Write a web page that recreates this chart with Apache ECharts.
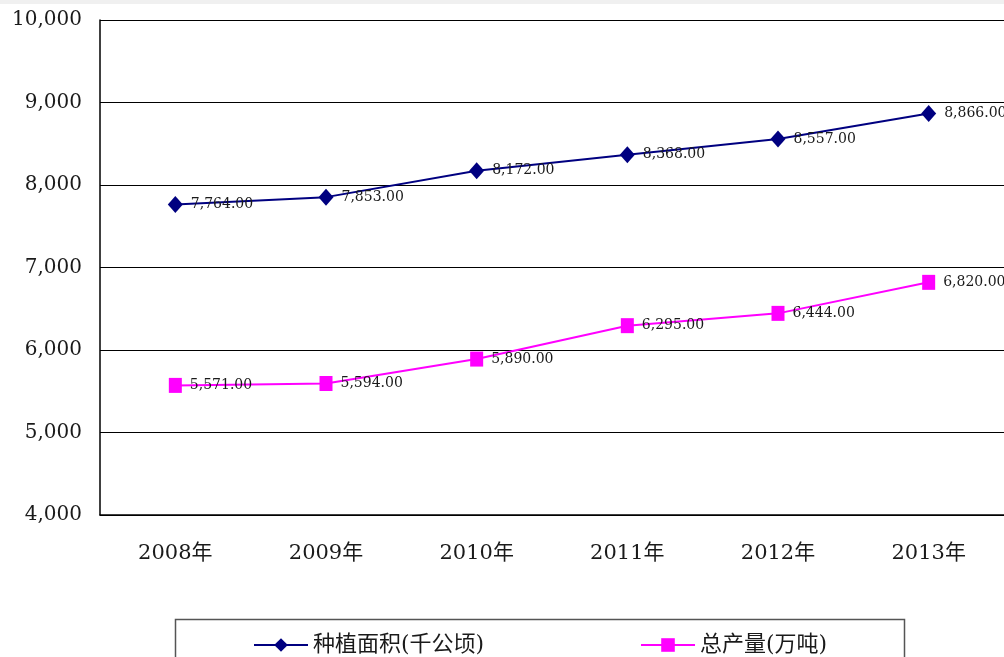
<!DOCTYPE html>
<html>
<head>
<meta charset="utf-8">
<script src="https://cdn.jsdelivr.net/npm/echarts@6/dist/echarts.min.js"></script>
<style>
  html, body { margin: 0; padding: 0; background: #fff; }
  #container { width: 1004px; height: 657px; }
</style>
</head>
<body>
<div id="container"></div>
<script>
var years = ["2008年", "2009年", "2010年", "2011年", "2012年", "2013年"];
var areaValues = [7764, 7853, 8172, 8368, 8557, 8866];
var outputValues = [5571, 5594, 5890, 6295, 6444, 6820];
var yTicks = [4000, 5000, 6000, 7000, 8000, 9000, 10000];
var seriesNames = ["种植面积(千公顷)", "总产量(万吨)"];

var serif = "'DejaVu Serif', 'Noto Sans CJK SC', serif";
var textColor = "#1a1a1a";

function fmt(v) {
  return v.toLocaleString("en-US", { minimumFractionDigits: 2, maximumFractionDigits: 2 });
}

var dom = document.getElementById("container");
var myChart = echarts.init(dom);

var legendBase = {
  top: 634,
  itemWidth: 54,
  itemHeight: 17,
  itemGap: 6,
  padding: 0,
  textStyle: { fontFamily: serif, fontSize: 22, color: textColor }
};

var option = {
  backgroundColor: "#fff",
  animation: false,
  graphic: [
    // grey strip on the top edge
    { type: "rect", left: 0, top: 0, shape: { width: 1004, height: 4 }, style: { fill: "#f0f0f0" } },
    // legend frame
    { type: "rect", left: 173, top: 617, shape: { width: 729, height: 60 },
      style: { fill: "none", stroke: "#555", lineWidth: 1.5 } }
  ],
  grid: { left: 100, top: 20, width: 906, height: 495 },
  legend: [
    Object.assign({}, legendBase, { left: 253, data: [seriesNames[0]] }),
    Object.assign({}, legendBase, { left: 640, data: [seriesNames[1]] })
  ],
  xAxis: {
    type: "category",
    data: years,
    boundaryGap: true,
    axisLine: { lineStyle: { color: "#000", width: 1.5 } },
    axisTick: { inside: true, length: 6, lineStyle: { color: "#000" } },
    axisLabel: { fontFamily: serif, fontSize: 21, color: textColor, margin: 28 }
  },
  yAxis: {
    type: "value",
    min: yTicks[0],
    max: yTicks[yTicks.length - 1],
    interval: 1000,
    axisLine: { show: true, lineStyle: { color: "#000", width: 1.5 } },
    axisTick: { show: false },
    splitLine: { lineStyle: { color: "#000", width: 1 } },
    axisLabel: {
      fontFamily: serif, fontSize: 20, color: textColor, margin: 18,
      formatter: function (v) { return v.toLocaleString("en-US"); }
    }
  },
  series: [
    {
      name: seriesNames[0],
      type: "line",
      data: areaValues,
      symbol: "diamond",
      symbolSize: [15, 17],
      color: "#000080",
      lineStyle: { width: 2 },
      label: {
        show: true, position: "right", distance: 8,
        fontFamily: serif, fontSize: 14, color: textColor,
        formatter: function (p) { return fmt(p.value); }
      }
    },
    {
      name: seriesNames[1],
      type: "line",
      data: outputValues,
      symbol: "rect",
      symbolSize: [13, 15],
      color: "#ff00ff",
      lineStyle: { width: 2 },
      label: {
        show: true, position: "right", distance: 8,
        fontFamily: serif, fontSize: 14, color: textColor,
        formatter: function (p) { return fmt(p.value); }
      }
    }
  ]
};
myChart.setOption(option, true);
</script>
</body>
</html>
